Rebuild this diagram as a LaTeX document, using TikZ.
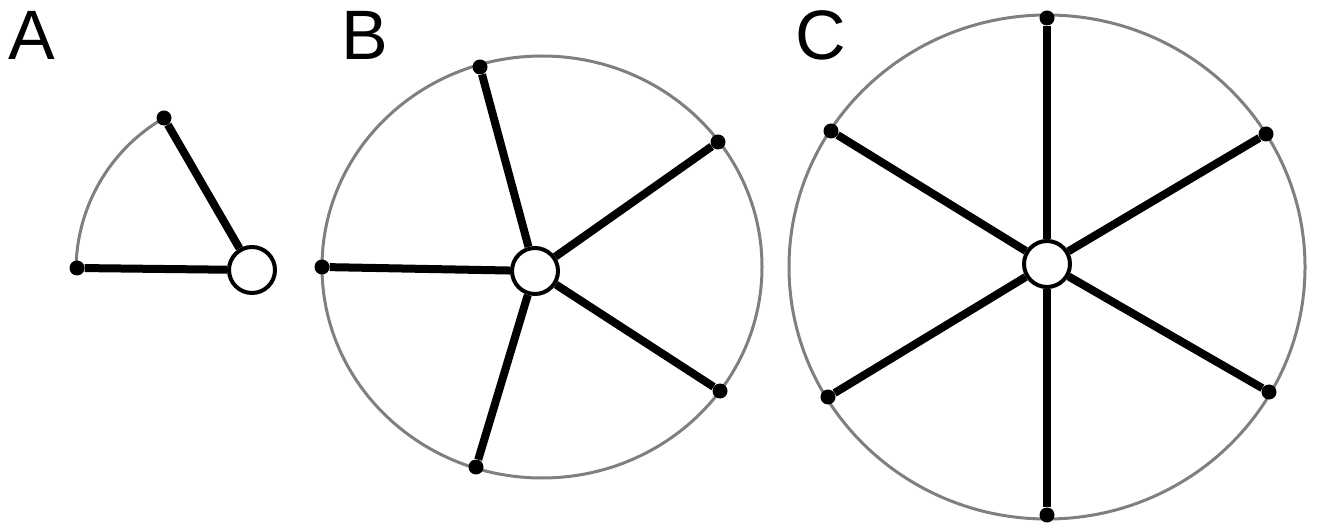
\documentclass[tikz,border=0pt]{standalone}
\usepackage{fontspec}
\setmainfont{Liberation Sans}
\begin{document}
\begin{tikzpicture}[x=1pt,y=-1pt,
  rim/.style={draw=rimgray,line width=3pt},
  spoke/.style={draw=black,line width=8pt},
  hub/.style={circle,draw=black,fill=white,line width=4pt,minimum size=46pt,inner sep=0pt},
  tip/.style={circle,fill=black,inner sep=0pt,minimum size=15pt},
  lab/.style={anchor=base west,inner sep=0pt,font=\fontsize{70}{84}\selectfont}]
\definecolor{rimgray}{HTML}{7F7F7F}
\useasboundingbox (0,0) rectangle (1317,526);
% labels
\node[lab] (labA) at (8,60) {A};
\node[lab] (labB) at (341,60) {B};
\node[lab] (labC) at (795,60) {C};
% ---- A ----
\draw[rim] (164,118) arc[start angle=240,end angle=180,radius=176];
\node[hub] (hA) at (252,270) {};
\node[tip] (a1) at (164,118) {};
\node[tip] (a2) at (77,268) {};
\draw[spoke] (hA) -- (a1);
\draw[spoke] (hA) -- (a2);
% ---- B ----
\draw[rim] (542,267) ellipse[x radius=220,y radius=211];
\node[hub] (hB) at (535,271) {};
\node[tip] (b1) at (480,67) {};
\node[tip] (b2) at (718,142) {};
\node[tip] (b3) at (720,391) {};
\node[tip] (b4) at (476,467) {};
\node[tip] (b5) at (322,267) {};
\foreach \p in {b1,b2,b3,b4,b5} \draw[spoke] (hB) -- (\p);
% ---- C ----
\draw[rim] (1047,267) ellipse[x radius=258,y radius=252];
\node[hub] (hC) at (1047,264) {};
\node[tip] (c1) at (1047,18) {};
\node[tip] (c2) at (1266,134) {};
\node[tip] (c3) at (1269,392) {};
\node[tip] (c4) at (1047,515) {};
\node[tip] (c5) at (828,397) {};
\node[tip] (c6) at (831,131) {};
\foreach \p in {c1,c2,c3,c4,c5,c6} \draw[spoke] (hC) -- (\p);
\end{tikzpicture}
\end{document}
